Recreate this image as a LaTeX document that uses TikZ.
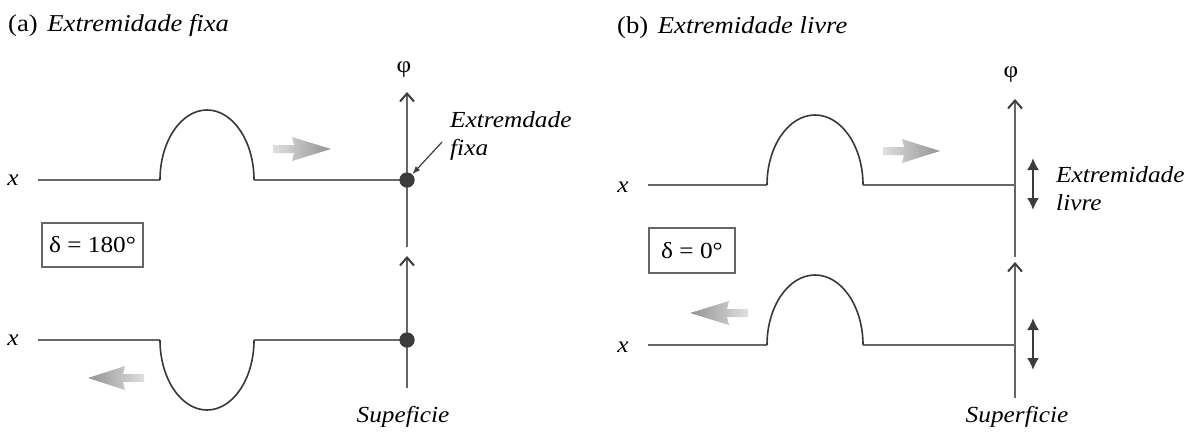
\documentclass[tikz,border=0pt]{standalone}
\usepackage{fontspec}
\setmainfont[FakeStretch=1.1]{Liberation Serif}
\usetikzlibrary{arrows.meta}
\definecolor{lin}{HTML}{666666}
\definecolor{crv}{HTML}{383838}
\definecolor{dk}{HTML}{3C3C3C}
\begin{document}
\begin{tikzpicture}[x=1pt,y=-1pt,
  line/.style={draw=lin, line width=2pt},
  wave/.style={draw=crv, line width=1.6pt},
  axis/.style={draw=lin, line width=2pt, -{Straight Barb[length=8pt,width=14pt,line width=2pt,color=dk]}},
  dotn/.style={circle, fill=dk, inner sep=0pt, minimum size=15pt},
  lbl/.style={font=\fontsize{23}{28}\selectfont\itshape, inner sep=0pt},
  txt/.style={font=\fontsize{23}{28}\selectfont, inner sep=0pt},
  ttl/.style={font=\fontsize{24.2}{28}\selectfont, inner sep=0pt},
  boxn/.style={draw=lin, line width=1.6pt, font=\fontsize{23}{28}\selectfont, inner sep=0pt},
  ptr/.style={draw=dk, line width=1.2pt, -{Latex[length=8pt,width=6pt]}},
  dbl/.style={draw=dk, line width=2pt, {Latex[length=12pt,width=12pt]}-{Latex[length=12pt,width=12pt]}},
  gl/.style={left color=gray!25, right color=gray!85},
  gr/.style={left color=gray!85, right color=gray!25}]
\useasboundingbox (0,0) rectangle (1201,432);

% ---------------- panel (a) ----------------
\node[ttl, anchor=base west] (ta) at (8,31) {(a)\hspace{0.4em}\textit{Extremidade fixa}};
\node[txt] (phia) at (404,70) {φ};
\node[lbl] (xa1) at (13,180) {x};
\node[lbl] (xa2) at (13,340) {x};

\coordinate (a1s) at (38,180);
\coordinate (a1b) at (160,180);
\coordinate (a1e) at (254,180);
\coordinate (a2s) at (38,340);
\coordinate (a2b) at (160,340);
\coordinate (a2e) at (254,340);
\node[dotn] (da1) at (407,180) {};
\node[dotn] (da2) at (407,340) {};
\coordinate (ua0) at (407,247);
\coordinate (ua1) at (407,92);
\coordinate (la0) at (407,388);
\coordinate (la1) at (407,256);

\draw[line] (a1s) -- (a1b);
\draw[wave] (a1b) arc[start angle=180, end angle=360, x radius=47, y radius=70];
\draw[line] (a1e) -- (da1.center);
\draw[line] (a2s) -- (a2b);
\draw[wave] (a2b) arc[start angle=180, end angle=0, x radius=47, y radius=70];
\draw[line] (a2e) -- (da2.center);
\draw[axis] (ua0) -- (ua1);
\draw[axis] (la0) -- (la1);
\node[dotn] at (da1) {};
\node[dotn] at (da2) {};

\shade[gl] (273,145) -- (294,145) -- (292,137) -- (331,149) -- (292,161) -- (294,153) -- (273,153) -- cycle;
\shade[gr] (144,374) -- (123,374) -- (125,366) -- (88,378) -- (125,390) -- (123,382) -- (144,382) -- cycle;

\node[lbl, align=left, anchor=north west] (fixl) at (450,111) {Extremdade\\fixa};
\coordinate (fixp) at (442,142);
\draw[ptr, shorten >=8pt] (fixp) -- (da1.center);

\node[boxn, minimum width=101pt, minimum height=44pt] (ba) at (92.5,245) {δ = 180°};
\node[lbl] (sa) at (403,417) {Supeficie};

% ---------------- panel (b) ----------------
\node[ttl, anchor=base west] (tb) at (617,33) {(b)\hspace{0.4em}\textit{Extremidade livre}};
\node[txt] (phib) at (1011,75) {φ};
\node[lbl] (xb1) at (623,187) {x};
\node[lbl] (xb2) at (623,347) {x};

\coordinate (b1s) at (648,185);
\coordinate (b1b) at (767,185);
\coordinate (b1e) at (863,185);
\coordinate (b1r) at (1015,185);
\coordinate (b2s) at (648,345);
\coordinate (b2b) at (767,345);
\coordinate (b2e) at (863,345);
\coordinate (b2r) at (1015,345);
\coordinate (ub0) at (1015,257);
\coordinate (ub1) at (1015,99);
\coordinate (lb0) at (1015,398);
\coordinate (lb1) at (1015,262);

\draw[line] (b1s) -- (b1b);
\draw[wave] (b1b) arc[start angle=180, end angle=360, x radius=48, y radius=70];
\draw[line] (b1e) -- (b1r);
\draw[line] (b2s) -- (b2b);
\draw[wave] (b2b) arc[start angle=180, end angle=360, x radius=48, y radius=70];
\draw[line] (b2e) -- (b2r);
\draw[axis] (ub0) -- (ub1);
\draw[axis] (lb0) -- (lb1);

\shade[gl] (883,147) -- (904,147) -- (902,139) -- (940,151) -- (902,163) -- (904,155) -- (883,155) -- cycle;
\shade[gr] (748,309) -- (727,309) -- (729,301) -- (690,313) -- (729,325) -- (727,317) -- (748,317) -- cycle;

\coordinate (d1t) at (1033,158);
\coordinate (d1b) at (1033,210);
\coordinate (d2t) at (1033,318);
\coordinate (d2b) at (1033,370);
\draw[dbl] (d1t) -- (d1b);
\draw[dbl] (d2t) -- (d2b);

\node[lbl, align=left, anchor=north west] (livl) at (1056,166) {Extremidade\\livre};
\node[boxn, minimum width=86pt, minimum height=45pt] (bb) at (692,250.5) {δ = 0°};
\node[lbl] (sb) at (1017,417) {Superficie};
\end{tikzpicture}
\end{document}
